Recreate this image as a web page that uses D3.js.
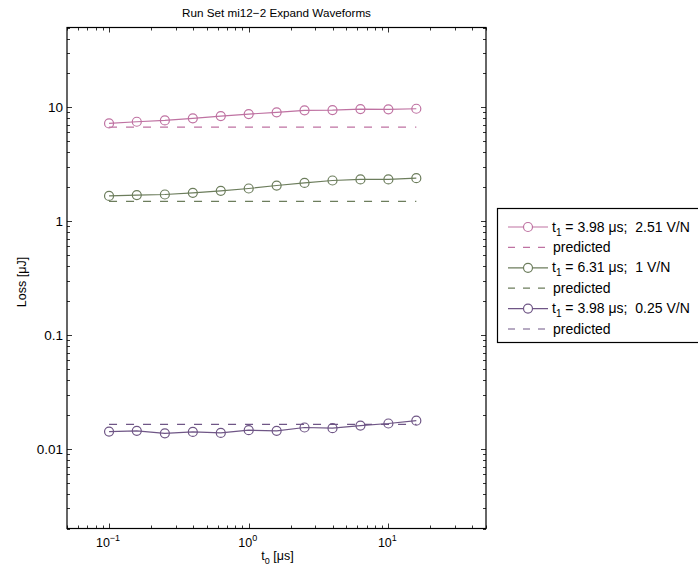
<!DOCTYPE html>
<html>
<head>
<meta charset="utf-8">
<script src="https://cdn.jsdelivr.net/npm/d3@7/dist/d3.min.js"></script>
<style>
  html, body { margin: 0; padding: 0; background: #fff; }
  svg { display: block; font-family: "Liberation Sans", Arial, Helvetica, sans-serif; }
  text { white-space: pre; }
</style>
</head>
<body>
<svg id="chart" width="698" height="579"></svg>
<script>
// t0 sample times [µs]
const t0 = [0.1, 0.158, 0.251, 0.398, 0.631, 1, 1.585, 2.51, 3.98, 6.31, 10, 15.85];

// measured loss [µJ] for each waveform set
const lossA = [7.20, 7.44, 7.65, 7.97, 8.35, 8.69, 9.00, 9.38, 9.43, 9.62, 9.56, 9.68];
const lossB = [1.66, 1.69, 1.71, 1.77, 1.84, 1.93, 2.05, 2.16, 2.27, 2.32, 2.32, 2.38];
const lossC = [0.0142, 0.0144, 0.0137, 0.0141, 0.0138, 0.0146, 0.0144, 0.0154, 0.0152, 0.0160, 0.0167, 0.0177];

// predicted loss [µJ]
const predA = 6.68;
const predB = 1.49;
const predC = 0.0164;

const seriesColors = ["#bf72a2", "#6c7d5c", "#6f5686"];
const seriesLabels = [
  ["3.98", "2.51"],
  ["6.31", "1"],
  ["3.98", "0.25"]
];

const xTickExps = [-1, 0, 1];
const yTickVals = [0.01, 0.1, 1, 10];
const yTickLabels = ["0.01", "0.1", "1", "10"];

const series = [
  { values: lossA, pred: predA },
  { values: lossB, pred: predB },
  { values: lossC, pred: predC }
];

const svg = d3.select("#chart");
const L = 67, R = 486, T = 27.5, B = 528.5;

const x = d3.scaleLog().domain([0.05, 50]).range([L, R]);
const y = d3.scaleLog().domain([0.002, 50]).range([B, T]);

// minor tick positions for a log domain
function logMinor(lo, hi) {
  const out = [];
  for (let e = Math.floor(Math.log10(lo)); e <= Math.ceil(Math.log10(hi)); e++) {
    for (let m = 1; m <= 9; m++) {
      const v = m * Math.pow(10, e);
      if (v >= lo * 0.999 && v <= hi * 1.001) out.push({ v, major: m === 1 });
    }
  }
  return out;
}

const g = svg.append("g");

// ticks on all four sides, pointing inwards
const xt = logMinor(0.05, 50);
const yt = logMinor(0.002, 50);
const tk = g.append("g").attr("stroke", "#000").attr("stroke-width", 0.8);
xt.forEach(d => {
  const len = d.major ? 5 : 3;
  const px = Math.round(x(d.v)) + 0.5;
  tk.append("line").attr("x1", px).attr("x2", px).attr("y1", B).attr("y2", B - len);
  tk.append("line").attr("x1", px).attr("x2", px).attr("y1", T).attr("y2", T + len);
});
yt.forEach(d => {
  const len = d.major ? 5 : 3;
  const py = Math.round(y(d.v)) + 0.5;
  tk.append("line").attr("y1", py).attr("y2", py).attr("x1", L).attr("x2", L + len);
  tk.append("line").attr("y1", py).attr("y2", py).attr("x1", R).attr("x2", R - len);
});

// axes box
g.append("rect").attr("x", L).attr("y", T).attr("width", R - L).attr("height", B - T)
  .attr("fill", "none").attr("stroke", "#000").attr("stroke-width", 1.2);

// y tick labels
g.selectAll(".ylab").data(yTickVals).enter().append("text")
  .attr("x", L - 4).attr("y", d => y(d) + 5)
  .attr("text-anchor", "end").attr("font-size", 13.5)
  .text((d, i) => yTickLabels[i]);

// x tick labels as powers of ten
xTickExps.forEach(e => {
  const t = g.append("text").attr("x", x(Math.pow(10, e)) - 1).attr("y", 547)
    .attr("text-anchor", "middle").attr("font-size", 12.5);
  t.append("tspan").text("10");
  t.append("tspan").attr("dy", -6).attr("font-size", 9).text(e < 0 ? "\u2212" + (-e) : String(e));
});

// axis titles
const xl = g.append("text").attr("x", (L + R) / 2 + 1).attr("y", 560)
  .attr("text-anchor", "middle").attr("font-size", 12.5);
xl.append("tspan").text("t");
xl.append("tspan").attr("dy", 4).attr("font-size", 9).text("0");
xl.append("tspan").attr("dy", -4).text(" [\u03bcs]");

g.append("text").attr("transform", `translate(26,${(T + B) / 2 + 4}) rotate(-90)`)
  .attr("text-anchor", "middle").attr("font-size", 12.5).text("Loss [\u03bcJ]");

g.append("text").attr("x", (L + R) / 2).attr("y", 17)
  .attr("text-anchor", "middle").attr("font-size", 11.7)
  .text("Run Set mi12\u22122 Expand Waveforms");

// data
const line = d3.line().x(d => x(d[0])).y(d => y(d[1]));
const plot = g.append("g");
series.forEach((s, i) => {
  const c = seriesColors[i];
  const pts = t0.map((t, j) => [t, s.values[j]]);
  plot.append("path").attr("d", line([[t0[0], s.pred], [t0[t0.length - 1], s.pred]]))
    .attr("fill", "none").attr("stroke", c).attr("stroke-width", 1.2)
    .attr("stroke-dasharray", "8,9");
  plot.append("path").attr("d", line(pts))
    .attr("fill", "none").attr("stroke", c).attr("stroke-width", 1.2);
  plot.selectAll(null).data(pts).enter().append("circle")
    .attr("cx", d => x(d[0])).attr("cy", d => y(d[1])).attr("r", 4.5)
    .attr("fill", "none").attr("stroke", c).attr("stroke-width", 1.2);
});

// legend
const lgX = 497, lgY = 208, rowH = 20.4;
const lg = g.append("g");
lg.append("rect").attr("x", lgX + 0.5).attr("y", lgY + 0.5).attr("width", 240).attr("height", 134)
  .attr("fill", "#fff").attr("stroke", "#000").attr("stroke-width", 1.2);
series.forEach((s, i) => {
  const c = seriesColors[i];
  const y1 = lgY + 19 + rowH * (2 * i);
  const y2 = y1 + rowH;
  lg.append("line").attr("x1", 508).attr("x2", 548).attr("y1", y1).attr("y2", y1)
    .attr("stroke", c).attr("stroke-width", 1.2);
  lg.append("circle").attr("cx", 528).attr("cy", y1).attr("r", 4.5)
    .attr("fill", "#fff").attr("stroke", c).attr("stroke-width", 1.2);
  const t = lg.append("text").attr("x", 552).attr("y", y1 + 4.5).attr("font-size", 14);
  t.append("tspan").text("t");
  t.append("tspan").attr("dy", 4).attr("font-size", 10).text("1");
  t.append("tspan").attr("dy", -4).text(` = ${seriesLabels[i][0]} \u03bcs;  ${seriesLabels[i][1]} V/N`);
  lg.append("line").attr("x1", 508).attr("x2", 548).attr("y1", y2).attr("y2", y2)
    .attr("stroke", c).attr("stroke-width", 1.2).attr("stroke-dasharray", "7,8");
  lg.append("text").attr("x", 553).attr("y", y2 + 4.5).attr("font-size", 14).text("predicted");
});
</script>
</body>
</html>
